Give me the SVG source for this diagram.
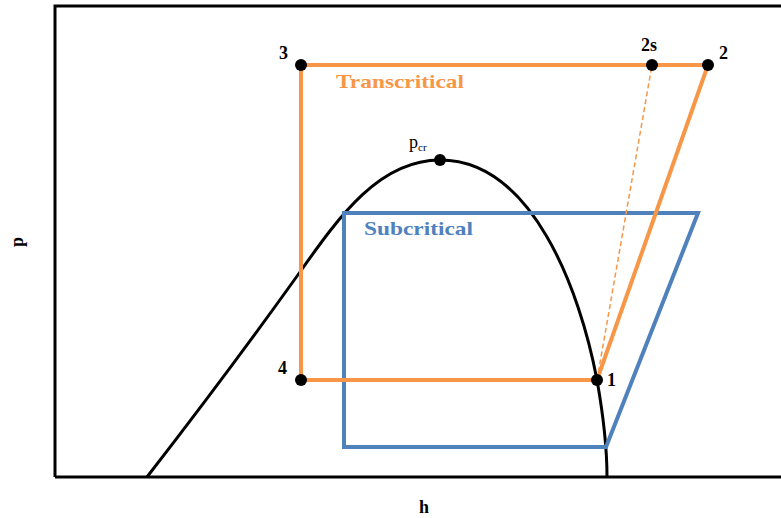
<svg xmlns="http://www.w3.org/2000/svg" width="781" height="518" viewBox="0 0 781 518">
<style>
text{font-family:"Liberation Serif","DejaVu Serif","Times New Roman",serif}
.lbl{font-weight:bold;font-size:18px;fill:#000}
.orange{stroke:#F79646;stroke-width:4;fill:none}
.blue{stroke:#4F81BD;stroke-width:4;fill:none}
.dot{fill:#000}
.title{font-weight:bold;font-size:19px}
</style>
<rect width="781" height="518" fill="#fff"/>
<g id="axes">
<path d="M55,477 L55,6 L790,6 M55,477 L790,477" stroke="#000" stroke-width="3" fill="none"/>
<text class="lbl" x="424" y="513" text-anchor="middle">h</text>
<text class="lbl" transform="translate(23,242) rotate(-90)" text-anchor="middle">p</text>
</g>
<g id="dome">
<path d="M147,477 C195,415 255,335 300,272 C340,215 380,160 440,160 C532,160 580,290 597,380 C605,425 607,460 607,477" stroke="#000" stroke-width="3" fill="none"/>
</g>
<g id="connectors">
<path class="blue" d="M344,213 L698,213 L606,447 L344,447 Z"/>
<path class="orange" d="M301,65 L708,65 L597,380 L301,380 Z"/>
<line x1="597" y1="380" x2="652" y2="65" stroke="#F79646" stroke-width="1.5" stroke-dasharray="5,3"/>
</g>
<g id="subcritical"><text class="title" x="364" y="235" fill="#4F81BD" textLength="109" lengthAdjust="spacingAndGlyphs">Subcritical</text></g>
<g id="transcritical"><text class="title" x="336" y="88" fill="#F79646" textLength="128" lengthAdjust="spacingAndGlyphs">Transcritical</text></g>
<g id="node-3"><circle class="dot" cx="301" cy="65" r="6"/><text class="lbl" x="279" y="59">3</text></g>
<g id="node-2s"><circle class="dot" cx="652" cy="65" r="6"/><text class="lbl" x="641" y="51">2s</text></g>
<g id="node-2"><circle class="dot" cx="708" cy="65" r="6"/><text class="lbl" x="719" y="59">2</text></g>
<g id="node-1"><circle class="dot" cx="597" cy="380" r="6"/><text class="lbl" x="607" y="386">1</text></g>
<g id="node-4"><circle class="dot" cx="301" cy="380" r="6"/><text class="lbl" x="278" y="374">4</text></g>
<g id="node-pcr"><circle class="dot" cx="440" cy="160" r="6"/><text x="409" y="148" font-size="18" fill="#000">p<tspan font-size="11" dy="3">cr</tspan></text></g>
</svg>
